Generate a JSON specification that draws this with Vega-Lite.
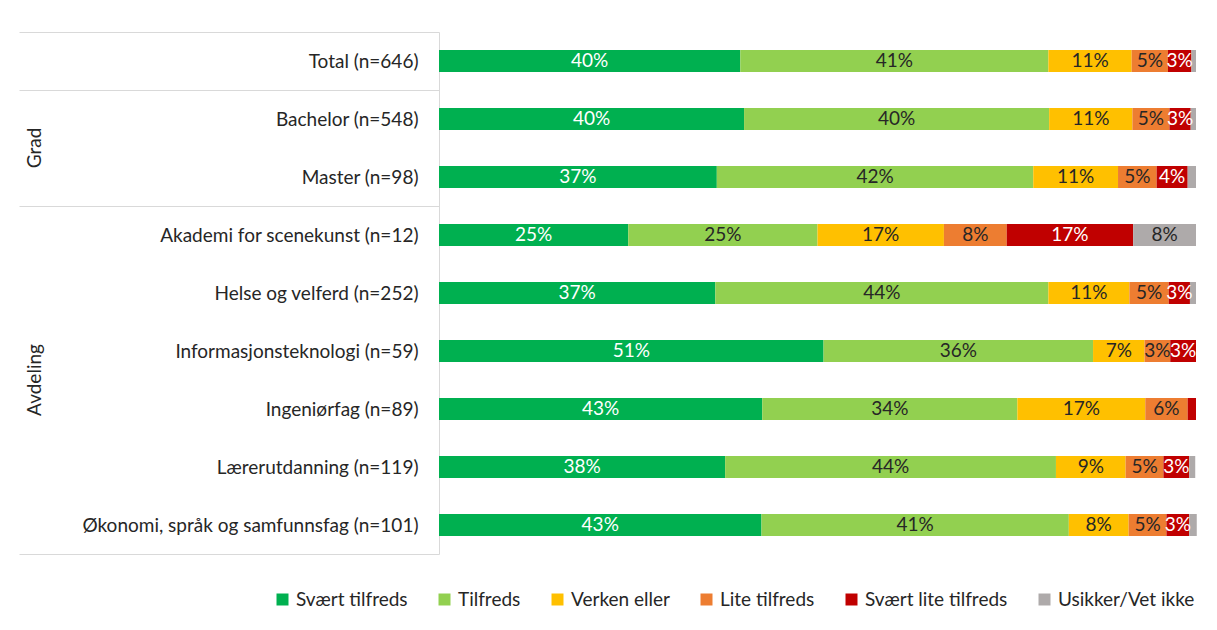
{
  "$schema": "https://vega.github.io/schema/vega-lite/v6.json",
  "background": "white",
  "autosize": {"type": "none"},
  "width": 757,
  "height": 522,
  "padding": {"left": 439, "top": 32, "right": 21, "bottom": 76},
  "config": {"view": {"stroke": null}, "font": "Lato"},
  "datasets": {
    "groups": [
      {"row": "Master (n=98)", "glabel": "Grad"},
      {"row": "Ingeniørfag (n=89)", "glabel": "Avdeling"}
    ]
  },
  "data": {"values": [
    {"row": "Total (n=646)", "cat": "Svært tilfreds", "pct": 0.398},
    {"row": "Total (n=646)", "cat": "Tilfreds", "pct": 0.407},
    {"row": "Total (n=646)", "cat": "Verken eller", "pct": 0.110},
    {"row": "Total (n=646)", "cat": "Lite tilfreds", "pct": 0.048},
    {"row": "Total (n=646)", "cat": "Svært lite tilfreds", "pct": 0.031},
    {"row": "Total (n=646)", "cat": "Usikker/Vet ikke", "pct": 0.006},
    {"row": "Bachelor (n=548)", "cat": "Svært tilfreds", "pct": 0.403},
    {"row": "Bachelor (n=548)", "cat": "Tilfreds", "pct": 0.403},
    {"row": "Bachelor (n=548)", "cat": "Verken eller", "pct": 0.110},
    {"row": "Bachelor (n=548)", "cat": "Lite tilfreds", "pct": 0.049},
    {"row": "Bachelor (n=548)", "cat": "Svært lite tilfreds", "pct": 0.028},
    {"row": "Bachelor (n=548)", "cat": "Usikker/Vet ikke", "pct": 0.007},
    {"row": "Master (n=98)", "cat": "Svært tilfreds", "pct": 0.367},
    {"row": "Master (n=98)", "cat": "Tilfreds", "pct": 0.418},
    {"row": "Master (n=98)", "cat": "Verken eller", "pct": 0.112},
    {"row": "Master (n=98)", "cat": "Lite tilfreds", "pct": 0.051},
    {"row": "Master (n=98)", "cat": "Svært lite tilfreds", "pct": 0.041},
    {"row": "Master (n=98)", "cat": "Usikker/Vet ikke", "pct": 0.011},
    {"row": "Akademi for scenekunst (n=12)", "cat": "Svært tilfreds", "pct": 0.25},
    {"row": "Akademi for scenekunst (n=12)", "cat": "Tilfreds", "pct": 0.25},
    {"row": "Akademi for scenekunst (n=12)", "cat": "Verken eller", "pct": 0.167},
    {"row": "Akademi for scenekunst (n=12)", "cat": "Lite tilfreds", "pct": 0.083},
    {"row": "Akademi for scenekunst (n=12)", "cat": "Svært lite tilfreds", "pct": 0.167},
    {"row": "Akademi for scenekunst (n=12)", "cat": "Usikker/Vet ikke", "pct": 0.083},
    {"row": "Helse og velferd (n=252)", "cat": "Svært tilfreds", "pct": 0.365},
    {"row": "Helse og velferd (n=252)", "cat": "Tilfreds", "pct": 0.440},
    {"row": "Helse og velferd (n=252)", "cat": "Verken eller", "pct": 0.107},
    {"row": "Helse og velferd (n=252)", "cat": "Lite tilfreds", "pct": 0.052},
    {"row": "Helse og velferd (n=252)", "cat": "Svært lite tilfreds", "pct": 0.028},
    {"row": "Helse og velferd (n=252)", "cat": "Usikker/Vet ikke", "pct": 0.008},
    {"row": "Informasjonsteknologi (n=59)", "cat": "Svært tilfreds", "pct": 0.508},
    {"row": "Informasjonsteknologi (n=59)", "cat": "Tilfreds", "pct": 0.356},
    {"row": "Informasjonsteknologi (n=59)", "cat": "Verken eller", "pct": 0.068},
    {"row": "Informasjonsteknologi (n=59)", "cat": "Lite tilfreds", "pct": 0.034},
    {"row": "Informasjonsteknologi (n=59)", "cat": "Svært lite tilfreds", "pct": 0.034},
    {"row": "Ingeniørfag (n=89)", "cat": "Svært tilfreds", "pct": 0.427},
    {"row": "Ingeniørfag (n=89)", "cat": "Tilfreds", "pct": 0.337},
    {"row": "Ingeniørfag (n=89)", "cat": "Verken eller", "pct": 0.169},
    {"row": "Ingeniørfag (n=89)", "cat": "Lite tilfreds", "pct": 0.056},
    {"row": "Ingeniørfag (n=89)", "cat": "Svært lite tilfreds", "pct": 0.011},
    {"row": "Lærerutdanning (n=119)", "cat": "Svært tilfreds", "pct": 0.378},
    {"row": "Lærerutdanning (n=119)", "cat": "Tilfreds", "pct": 0.437},
    {"row": "Lærerutdanning (n=119)", "cat": "Verken eller", "pct": 0.092},
    {"row": "Lærerutdanning (n=119)", "cat": "Lite tilfreds", "pct": 0.050},
    {"row": "Lærerutdanning (n=119)", "cat": "Svært lite tilfreds", "pct": 0.034},
    {"row": "Lærerutdanning (n=119)", "cat": "Usikker/Vet ikke", "pct": 0.008},
    {"row": "Økonomi, språk og samfunnsfag (n=101)", "cat": "Svært tilfreds", "pct": 0.426},
    {"row": "Økonomi, språk og samfunnsfag (n=101)", "cat": "Tilfreds", "pct": 0.406},
    {"row": "Økonomi, språk og samfunnsfag (n=101)", "cat": "Verken eller", "pct": 0.079},
    {"row": "Økonomi, språk og samfunnsfag (n=101)", "cat": "Lite tilfreds", "pct": 0.050},
    {"row": "Økonomi, språk og samfunnsfag (n=101)", "cat": "Svært lite tilfreds", "pct": 0.030},
    {"row": "Økonomi, språk og samfunnsfag (n=101)", "cat": "Usikker/Vet ikke", "pct": 0.010}
  ]},
  "transform": [
    {"calculate": "indexof(['Svært tilfreds','Tilfreds','Verken eller','Lite tilfreds','Svært lite tilfreds','Usikker/Vet ikke'], datum.cat)", "as": "k"}
  ],
  "layer": [
    {
      "mark": {"type": "bar", "height": {"band": 0.38}},
      "encoding": {
        "y": {
          "field": "row", "type": "nominal",
          "sort": ["Total (n=646)", "Bachelor (n=548)", "Master (n=98)", "Akademi for scenekunst (n=12)", "Helse og velferd (n=252)", "Informasjonsteknologi (n=59)", "Ingeniørfag (n=89)", "Lærerutdanning (n=119)", "Økonomi, språk og samfunnsfag (n=101)"],
          "scale": {"paddingInner": 0, "paddingOuter": 0},
          "axis": {
            "title": null,
            "domainColor": "#d9d9d9",
            "tickBand": "extent",
            "tickSize": 420,
            "tickColor": "#d9d9d9",
            "tickOpacity": {"condition": {"test": "datum.extra || indexof(['Total (n=646)','Master (n=98)','Økonomi, språk og samfunnsfag (n=101)'], datum.value) >= 0", "value": 1}, "value": 0},
            "labelPadding": -399,
            "labelFont": "Lato", "labelFontSize": 19, "labelColor": "#262626",
            "labelLimit": 0
          }
        },
        "x": {"field": "pct", "type": "quantitative", "stack": "zero", "scale": {"domain": [0, 1]}, "axis": null},
        "color": {
          "field": "cat", "type": "nominal",
          "scale": {
            "domain": ["Svært tilfreds", "Tilfreds", "Verken eller", "Lite tilfreds", "Svært lite tilfreds", "Usikker/Vet ikke"],
            "range": ["#00B050", "#92D050", "#FFC000", "#ED7D31", "#C00000", "#AEAAAA"]
          },
          "legend": {
            "title": null, "orient": "none", "direction": "horizontal",
            "legendX": -166, "legendY": 558,
            "symbolType": "square", "symbolSize": 144, "symbolStrokeWidth": 0,
            "labelFont": "Lato", "labelFontSize": 19, "labelColor": "#262626",
            "labelOffset": 4, "columnPadding": 27, "gridAlign": "none", "labelLimit": 0
          }
        },
        "order": {"field": "k", "type": "quantitative"}
      }
    },
    {
      "mark": {"type": "text", "font": "Lato", "fontSize": 19},
      "encoding": {
        "y": {
          "field": "row", "type": "nominal",
          "sort": ["Total (n=646)", "Bachelor (n=548)", "Master (n=98)", "Akademi for scenekunst (n=12)", "Helse og velferd (n=252)", "Informasjonsteknologi (n=59)", "Ingeniørfag (n=89)", "Lærerutdanning (n=119)", "Økonomi, språk og samfunnsfag (n=101)"]
        },
        "x": {"field": "pct", "type": "quantitative", "stack": "zero", "bandPosition": 0.5, "axis": null},
        "text": {"condition": {"test": "datum.pct < 0.02", "value": ""}, "field": "pct", "type": "quantitative", "format": ".0%"},
        "color": {"condition": {"test": "datum.k == 0 || datum.k == 4", "value": "white"}, "value": "#262626"},
        "detail": {"field": "cat"},
        "order": {"field": "k", "type": "quantitative"}
      }
    },
    {
      "data": {"name": "groups"},
      "mark": {"type": "text", "font": "Lato", "fontSize": 19, "angle": 270, "align": "center", "baseline": "middle", "dy": -404, "color": "#262626"},
      "encoding": {
        "y": {
          "field": "row", "type": "nominal", "bandPosition": 0,
          "sort": ["Total (n=646)", "Bachelor (n=548)", "Master (n=98)", "Akademi for scenekunst (n=12)", "Helse og velferd (n=252)", "Informasjonsteknologi (n=59)", "Ingeniørfag (n=89)", "Lærerutdanning (n=119)", "Økonomi, språk og samfunnsfag (n=101)"]
        },
        "x": {"datum": 0},
        "text": {"field": "glabel"}
      }
    }
  ]
}
